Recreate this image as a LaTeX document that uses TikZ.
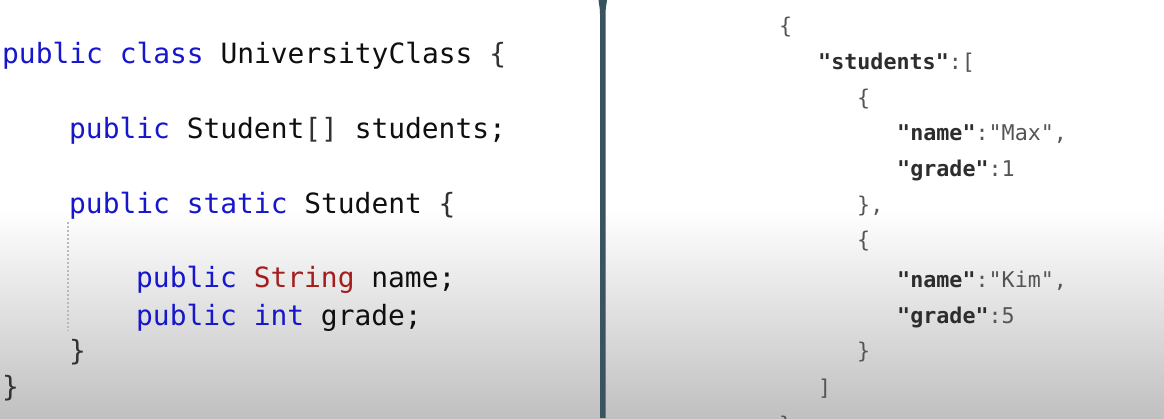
\documentclass[tikz,border=0pt]{standalone}
\usepackage{fontspec}
\newfontfamily\codefont{DejaVu Sans Mono}
\definecolor{kwblue}{RGB}{22,22,205}
\definecolor{typered}{RGB}{165,30,30}
\definecolor{codeblack}{RGB}{15,15,15}
\definecolor{bracegray}{RGB}{50,50,50}
\definecolor{jsonkey}{RGB}{45,45,45}
\definecolor{jsongray}{RGB}{85,85,85}
\definecolor{divider}{RGB}{58,84,95}
\definecolor{bgbottom}{RGB}{192,192,192}
\definecolor{guide}{RGB}{185,185,185}
\newcommand{\kw}[1]{\textcolor{kwblue}{#1}}
\newcommand{\jk}[1]{\textcolor{jsonkey}{\bfseries #1}}
\begin{document}
\begin{tikzpicture}[x=1pt,y=1pt,
  javaline/.style={anchor=base west,inner sep=0pt,text=codeblack,font=\codefont\fontsize{27.9}{30}\selectfont},
  jsonline/.style={anchor=base west,inner sep=0pt,text=jsongray,font=\codefont\fontsize{21.7}{24}\selectfont}]
\useasboundingbox (0,0) rectangle (1164,-418);
% background
\fill[white] (0,0) rectangle (1164,-211);
\shade[top color=white,bottom color=bgbottom] (0,-210) rectangle (1164,-418);
% indent guide
\draw[guide,line width=1.2pt,dash pattern=on 1.5pt off 2.5pt] (68,-222) -- (68,-331);
% divider
\fill[divider] (598.5,0) .. controls (599,-5) and (600,-8) .. (600,-14) -- (600,-418) -- (605.5,-418) -- (605.5,-14) .. controls (605.5,-8) and (606.5,-5) .. (607,0) -- cycle;
% Java code
\node[javaline] (j1) at (2,-63) {\kw{public class} UniversityClass \textcolor{bracegray}{\{}};
\node[javaline] (j2) at (69,-138) {\kw{public} Student\textcolor{bracegray}{[]} students;};
\node[javaline] (j3) at (69,-213) {\kw{public static} Student \textcolor{bracegray}{\{}};
\node[javaline] (j4) at (136,-287) {\kw{public} \textcolor{typered}{String} name;};
\node[javaline] (j5) at (136,-325) {\kw{public int} grade;};
\node[javaline] (j6) at (69,-360) {\textcolor{bracegray}{\}}};
\node[javaline] (j7) at (2,-396) {\textcolor{bracegray}{\}}};
% JSON
\node[jsonline] (s1) at (779,-33) {\{};
\node[jsonline] (s2) at (818,-69) {\jk{"students"}:[};
\node[jsonline] (s3) at (857,-105) {\{};
\node[jsonline] (s4) at (897,-140) {\jk{"name"}:"Max",};
\node[jsonline] (s5) at (897,-176) {\jk{"grade"}:1};
\node[jsonline] (s6) at (857,-212) {\},};
\node[jsonline] (s7) at (857,-247) {\{};
\node[jsonline] (s8) at (897,-287) {\jk{"name"}:"Kim",};
\node[jsonline] (s9) at (897,-323) {\jk{"grade"}:5};
\node[jsonline] (s10) at (857,-358) {\}};
\node[jsonline] (s11) at (818,-395) {]};
\node[jsonline] (s12) at (779,-432) {\}};
\end{tikzpicture}
\end{document}
